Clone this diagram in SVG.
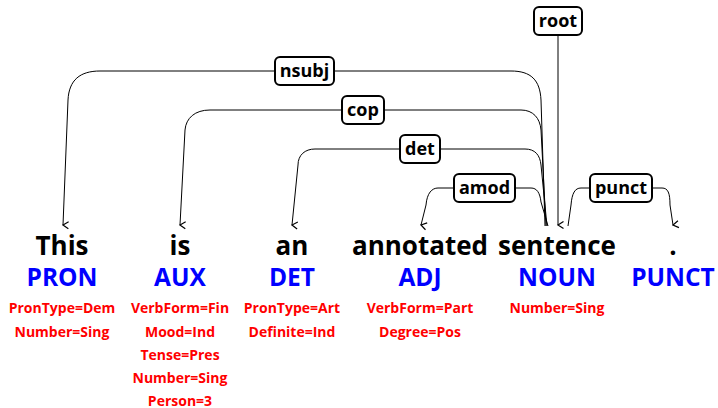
<svg xmlns="http://www.w3.org/2000/svg" width="718" height="408" viewBox="0 0 718 408">
  <defs>
    <marker id="arrow" markerUnits="userSpaceOnUse" markerWidth="12" markerHeight="12" refX="6" refY="9" orient="auto" viewBox="0 0 12 12">
      <path d="M2.5,3.5 L6,9 L9.5,3.5" fill="none" stroke="#000" stroke-width="1.2"/>
    </marker>
    <style>
      .word { font-family: "Open Sans", "Noto Sans", sans-serif; font-weight: bold; font-size: 26px; fill: #000; text-anchor: middle; }
      .pos { font-family: "Open Sans", "Noto Sans", sans-serif; font-weight: bold; font-size: 24.5px; fill: #0000ff; text-anchor: middle; }
      .feat { font-family: "Open Sans", "Noto Sans", sans-serif; font-weight: bold; font-size: 14px; fill: #ff0000; text-anchor: middle; }
      .arc { fill: none; stroke: #000; stroke-width: 1; }
      .lbox { fill: #fff; stroke: #000; stroke-width: 2; }
      .ltext { font-family: "Open Sans", "Noto Sans", sans-serif; font-weight: bold; font-size: 18px; fill: #000; text-anchor: middle; }
    </style>
  </defs>

  <!-- dependency arcs -->
  <g id="connectors">
    <path class="arc" marker-end="url(#arrow)" d="M545,226 L541,100 C540,80 531,71 511,71 L100,71 C80,71 69,80 68,100 L63,225"/>
    <path class="arc" marker-end="url(#arrow)" d="M546,226 L541,130 C540,118 533,110 521,110 L210,110 C195,110 186,118 185,130 L180,225"/>
    <path class="arc" marker-end="url(#arrow)" d="M547,226 L541,165 C540,155 535,149 525,149 L315,149 C305,149 298,155 298,165 L292,225"/>
    <path class="arc" marker-end="url(#arrow)" d="M548,226 L541,202 C540,193 537,188 531,188 L438,188 C432,188 427,193 426,205 L421,225"/>
    <path class="arc" marker-end="url(#arrow)" d="M558,35 L558,225"/>
    <path class="arc" marker-end="url(#arrow)" d="M568,226 L571,205 C572,193 575,188 581,188 L662,188 C668,188 670,193 670,205 L673,225"/>
  </g>

  <!-- arc labels -->
  <g id="label-nsubj"><rect class="lbox" x="275" y="57" width="59" height="28" rx="5"/><text class="ltext" x="304.5" y="77">nsubj</text></g>
  <g id="label-cop"><rect class="lbox" x="342" y="96" width="42" height="28" rx="5"/><text class="ltext" x="363" y="116">cop</text></g>
  <g id="label-det"><rect class="lbox" x="400" y="135" width="40" height="28" rx="5"/><text class="ltext" x="420" y="155">det</text></g>
  <g id="label-amod"><rect class="lbox" x="454" y="174" width="61" height="28" rx="5"/><text class="ltext" x="484.5" y="194">amod</text></g>
  <g id="label-root"><rect class="lbox" x="534" y="7" width="48" height="28" rx="5"/><text class="ltext" x="558" y="27">root</text></g>
  <g id="label-punct"><rect class="lbox" x="590" y="174" width="62" height="28" rx="5"/><text class="ltext" x="621" y="194">punct</text></g>

  <!-- tokens -->
  <g id="tok-this">
    <text class="word" x="62" y="255">This</text>
    <text class="pos" x="62" y="286">PRON</text>
    <text class="feat" x="62" y="313">PronType=Dem</text>
    <text class="feat" x="62" y="336.5">Number=Sing</text>
  </g>
  <g id="tok-is">
    <text class="word" x="180" y="255">is</text>
    <text class="pos" x="180" y="286">AUX</text>
    <text class="feat" x="180" y="313">VerbForm=Fin</text>
    <text class="feat" x="180" y="336.5">Mood=Ind</text>
    <text class="feat" x="180" y="359.5">Tense=Pres</text>
    <text class="feat" x="180" y="382.5">Number=Sing</text>
    <text class="feat" x="180" y="405.5">Person=3</text>
  </g>
  <g id="tok-an">
    <text class="word" x="292" y="255">an</text>
    <text class="pos" x="292" y="286">DET</text>
    <text class="feat" x="292" y="313">PronType=Art</text>
    <text class="feat" x="292" y="336.5">Definite=Ind</text>
  </g>
  <g id="tok-annotated">
    <text class="word" x="420" y="255">annotated</text>
    <text class="pos" x="420" y="286">ADJ</text>
    <text class="feat" x="420" y="313">VerbForm=Part</text>
    <text class="feat" x="420" y="336.5">Degree=Pos</text>
  </g>
  <g id="tok-sentence">
    <text class="word" x="557" y="255">sentence</text>
    <text class="pos" x="557" y="286">NOUN</text>
    <text class="feat" x="557" y="313">Number=Sing</text>
  </g>
  <g id="tok-period">
    <text class="word" x="673" y="255">.</text>
    <text class="pos" x="673" y="286">PUNCT</text>
  </g>
</svg>
